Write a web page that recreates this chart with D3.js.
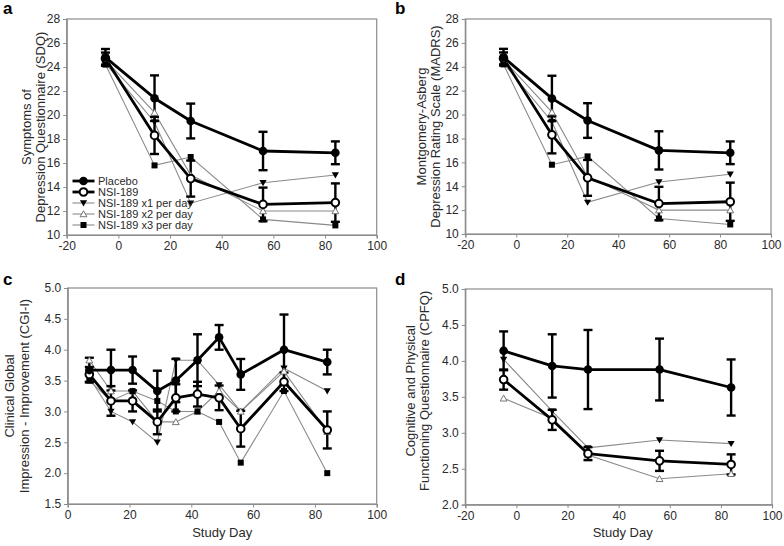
<!DOCTYPE html>
<html>
<head>
<meta charset="utf-8">
<script src="https://cdn.jsdelivr.net/npm/d3@7"></script>
<style>
  html, body { margin: 0; padding: 0; background: #fff; }
  svg { display: block; }
  text { font-family: "Liberation Sans", Arial, sans-serif; }
</style>
</head>
<body>
<script>
// ---------------- DATA ----------------
const daysAB = [-5, 14, 28, 56, 84];
const seriesNames = ["Placebo", "NSI-189", "NSI-189 x1 per day", "NSI-189 x2 per day", "NSI-189 x3 per day"];

// Panel a: SDQ
const sdqPlacebo    = [24.8, 21.4, 19.5, 17.0, 16.85];
const sdqPlaceboErr = [0.7, 1.9, 1.45, 1.6, 0.95];
const sdqNSI        = [24.7, 18.3, 14.7, 12.55, 12.7];
const sdqNSIErr     = [0.5, 1.55, 1.5, 1.4, 1.6];
const sdqX1         = [24.3, 19.4, 12.65, 14.35, 15.0];
const sdqX2         = [24.6, 20.2, 15.0, 12.0, 12.0];
const sdqX3         = [24.2, 15.8, 16.5, 11.3, 10.8];

// Panel b: MADRS
const madrsPlacebo    = [24.8, 21.35, 19.5, 17.0, 16.8];
const madrsPlaceboErr = [0.7, 1.9, 1.45, 1.6, 0.95];
const madrsNSI        = [24.7, 18.3, 14.7, 12.55, 12.7];
const madrsNSIErr     = [0.5, 1.55, 1.5, 1.4, 1.6];
const madrsX1         = [24.3, 19.4, 12.65, 14.35, 15.0];
const madrsX2         = [24.6, 20.2, 14.8, 12.0, 12.0];
const madrsX3         = [24.2, 15.8, 16.5, 11.3, 10.8];

// Panel c: CGI-I
const daysC          = [7, 14, 21, 29, 35, 42, 49, 56, 70, 84];
const cgiPlacebo     = [3.67, 3.67, 3.67, 3.33, 3.5, 3.83, 4.2, 3.6, 4.0, 3.8];
const cgiPlaceboErr  = [0.2, 0.33, 0.22, 0.33, 0.35, 0.42, 0.2, 0.25, 0.57, 0.2];
const cgiNSI         = [3.6, 3.17, 3.17, 2.83, 3.22, 3.28, 3.22, 2.72, 3.48, 2.7];
const cgiNSIErr      = [0.12, 0.24, 0.17, 0.2, 0.22, 0.2, 0.2, 0.29, 0.15, 0.3];
const cgiX1          = [3.55, 3.0, 2.83, 2.5, 3.83, 3.83, 3.43, 3.0, 3.7, 3.33];
const cgiX2          = [3.83, 3.33, 3.33, 2.83, 2.83, 3.0, 3.33, 3.0, 3.65, 2.67];
const cgiX3          = [3.5, 3.17, 3.33, 3.17, 3.0, 3.0, 2.83, 2.17, 3.33, 2.0];

// Panel d: CPFQ
const cpfqPlacebo    = [4.14, 3.93, 3.88, 3.88, 3.63];
const cpfqPlaceboErr = [0.27, 0.44, 0.55, 0.43, 0.39];
const cpfqNSI        = [3.74, 3.18, 2.71, 2.61, 2.56];
const cpfqNSIErr     = [0.14, 0.14, 0.09, 0.14, 0.14];
const cpfqX1         = [4.02, 3.3, 2.79, 2.9, 2.85];
const cpfqX2         = [3.48, 3.2, 2.69, 2.36, 2.43];

// Ticks
const ticksXab = [-20, 0, 20, 40, 60, 80, 100];
const ticksYab = [10, 12, 14, 16, 18, 20, 22, 24, 26, 28];
const ticksXc  = [0, 20, 40, 60, 80, 100];
const ticksYc  = [1.5, 2.0, 2.5, 3.0, 3.5, 4.0, 4.5, 5.0];
const ticksYd  = [2.0, 2.5, 3.0, 3.5, 4.0, 4.5, 5.0];

// ---------------- DRAW ----------------
const svg = d3.select("body").append("svg").attr("width", 784).attr("height", 546);
svg.append("rect").attr("width", 784).attr("height", 546).attr("fill", "#fff");

const AXC = "#8c8c8c";
const TXT = "#2a2a2a";

function marker(g, type, x, y) {
  if (type === "fcircle") {
    g.append("circle").attr("cx", x).attr("cy", y).attr("r", 4.3).attr("fill", "#000");
  } else if (type === "ocircle") {
    g.append("circle").attr("cx", x).attr("cy", y).attr("r", 3.8).attr("fill", "#fff").attr("stroke", "#000").attr("stroke-width", 2);
  } else if (type === "dtri") {
    const s = 3.6;
    g.append("path").attr("d", `M${x - s},${y - s * 0.75}L${x + s},${y - s * 0.75}L${x},${y + s * 0.95}Z`).attr("fill", "#000");
  } else if (type === "otri") {
    const s = 3.4;
    g.append("path").attr("d", `M${x - s},${y + s * 0.8}L${x + s},${y + s * 0.8}L${x},${y - s * 0.95}Z`).attr("fill", "#fff").attr("stroke", "#666").attr("stroke-width", 0.9);
  } else if (type === "square") {
    g.append("rect").attr("x", x - 3).attr("y", y - 3).attr("width", 6).attr("height", 6).attr("fill", "#000");
  }
}

function drawPanel(cfg) {
  const x = d3.scaleLinear().domain(cfg.xDomain).range(cfg.xRange);
  const y = d3.scaleLinear().domain(cfg.yDomain).range(cfg.yRange);
  const g = svg.append("g");

  // frame
  g.append("rect")
    .attr("x", cfg.xRange[0]).attr("y", cfg.yRange[1])
    .attr("width", cfg.xRange[1] - cfg.xRange[0])
    .attr("height", cfg.yRange[0] - cfg.yRange[1])
    .attr("fill", "none").attr("stroke", AXC).attr("stroke-width", 1.2);

  // axes
  const xAxis = d3.axisBottom(x).tickValues(cfg.xTicks).tickSize(3.5).tickPadding(3).tickFormat(d => String(d));
  const yAxis = d3.axisLeft(y).tickValues(cfg.yTicks).tickSize(3.5).tickPadding(3).tickFormat(cfg.yFormat);
  const gx = g.append("g").attr("transform", `translate(0,${cfg.yRange[0]})`).call(xAxis);
  const gy = g.append("g").attr("transform", `translate(${cfg.xRange[0]},0)`).call(yAxis);
  [gx, gy].forEach(a => {
    a.select(".domain").attr("stroke", AXC).attr("stroke-width", 1.2);
    a.selectAll(".tick line").attr("stroke", AXC).attr("stroke-width", 1);
    a.selectAll(".tick text").attr("fill", TXT).style("font-size", "12px").style("font-family", "Liberation Sans, Arial, sans-serif");
  });

  const line = d3.line().x(d => x(d[0])).y(d => y(d[1]));
  const pts = (xs, ys) => xs.map((d, i) => [d, ys[i]]);

  // thin series
  cfg.thin.forEach(s => {
    g.append("path").datum(pts(cfg.days, s.values)).attr("d", line)
      .attr("fill", "none").attr("stroke", "#8a8a8a").attr("stroke-width", 1.1);
  });
  // thick series lines
  cfg.thick.slice().reverse().forEach(s => {
    g.append("path").datum(pts(cfg.days, s.values)).attr("d", line)
      .attr("fill", "none").attr("stroke", "#000").attr("stroke-width", 2.8).attr("stroke-linejoin", "round");
  });
  // error bars
  cfg.thick.forEach(s => {
    cfg.days.forEach((d, i) => {
      const cx = x(d), v = s.values[i], e = s.err[i];
      const y1 = y(v + e), y2 = y(v - e);
      g.append("line").attr("x1", cx).attr("x2", cx).attr("y1", y1).attr("y2", y2).attr("stroke", "#000").attr("stroke-width", 2.4);
      [y1, y2].forEach(yy => g.append("line").attr("x1", cx - 4.5).attr("x2", cx + 4.5).attr("y1", yy).attr("y2", yy).attr("stroke", "#000").attr("stroke-width", 2.4));
    });
  });
  // thin markers
  cfg.thin.forEach(s => {
    cfg.days.forEach((d, i) => marker(g, s.marker, x(d), y(s.values[i])));
  });
  // thick markers
  cfg.thick.slice().reverse().forEach(s => {
    cfg.days.forEach((d, i) => marker(g, s.marker, x(d), y(s.values[i])));
  });

  // panel letter
  svg.append("text").attr("x", cfg.letterPos[0]).attr("y", cfg.letterPos[1])
    .text(cfg.letter).attr("fill", "#000").style("font-size", "17px").style("font-weight", "bold");

  // y title (two lines)
  const cy = (cfg.yRange[0] + cfg.yRange[1]) / 2 + (cfg.titleDy || 0);
  cfg.yTitle.forEach((t, k) => {
    svg.append("text")
      .attr("transform", `translate(${cfg.titleX[k]},${cy}) rotate(-90)`)
      .attr("text-anchor", "middle").attr("fill", TXT)
      .style("font-size", "13px").text(t);
  });

  if (cfg.xTitle) {
    svg.append("text").attr("x", (cfg.xRange[0] + cfg.xRange[1]) / 2 + (cfg.xTitleDx || 0)).attr("y", 537)
      .attr("text-anchor", "middle").attr("fill", TXT).style("font-size", "13px").text(cfg.xTitle);
  }

  // legend
  if (cfg.legend) {
    const all = cfg.thick.concat(cfg.thin);
    const rowsY = [181, 192, 203, 214, 225];
    all.forEach((s, k) => {
      const ly = rowsY[k];
      const thick = k < 2;
      g.append("line").attr("x1", 72.5).attr("x2", 94.5).attr("y1", ly).attr("y2", ly)
        .attr("stroke", thick ? "#000" : "#8a8a8a").attr("stroke-width", thick ? 2.8 : 1.1);
      marker(g, s.marker, 83.5, ly);
      g.append("text").attr("x", 98).attr("y", ly + 4).attr("fill", TXT)
        .style("font-size", "11px").text(seriesNames[k]);
    });
  }
}

const fmt1 = d3.format(".1f");

drawPanel({
  letter: "a", letterPos: [3, 14],
  xDomain: [-20, 100], xRange: [66.7, 376.7],
  yDomain: [10, 28], yRange: [235, 19],
  xTicks: ticksXab, yTicks: ticksYab, yFormat: d3.format("d"),
  days: daysAB,
  thick: [{ values: sdqPlacebo, err: sdqPlaceboErr, marker: "fcircle" },
          { values: sdqNSI, err: sdqNSIErr, marker: "ocircle" }],
  thin: [{ values: sdqX1, marker: "dtri" }, { values: sdqX2, marker: "otri" }, { values: sdqX3, marker: "square" }],
  yTitle: ["Symptoms of", "Depression Questionnaire (SDQ)"], titleX: [30.5, 44.5],
  legend: true
});

drawPanel({
  letter: "b", letterPos: [395, 14],
  xDomain: [-20, 100], xRange: [465.3, 771],
  yDomain: [10, 28], yRange: [234, 19],
  xTicks: ticksXab, yTicks: ticksYab, yFormat: d3.format("d"),
  days: daysAB,
  thick: [{ values: madrsPlacebo, err: madrsPlaceboErr, marker: "fcircle" },
          { values: madrsNSI, err: madrsNSIErr, marker: "ocircle" }],
  thin: [{ values: madrsX1, marker: "dtri" }, { values: madrsX2, marker: "otri" }, { values: madrsX3, marker: "square" }],
  yTitle: ["Montgomery-Asberg", "Depression Rating Scale  (MADRS)"], titleX: [426, 439.5]
});

drawPanel({
  letter: "c", letterPos: [3, 285],
  xDomain: [0, 100], xRange: [67.7, 376.7],
  yDomain: [1.5, 5], yRange: [504, 288],
  xTicks: ticksXc, yTicks: ticksYc, yFormat: fmt1,
  days: daysC,
  thick: [{ values: cgiPlacebo, err: cgiPlaceboErr, marker: "fcircle" },
          { values: cgiNSI, err: cgiNSIErr, marker: "ocircle" }],
  thin: [{ values: cgiX1, marker: "dtri" }, { values: cgiX2, marker: "otri" }, { values: cgiX3, marker: "square" }],
  yTitle: ["Clinical Global", "Impression - Improvement  (CGI-I)"], titleX: [14, 29],
  xTitle: "Study Day"
});

drawPanel({
  letter: "d", letterPos: [395, 285],
  xDomain: [-20, 100], xRange: [465.3, 772],
  yDomain: [2, 5], yRange: [504.7, 289],
  xTicks: ticksXab, yTicks: ticksYd, yFormat: fmt1,
  days: daysAB,
  thick: [{ values: cpfqPlacebo, err: cpfqPlaceboErr, marker: "fcircle" },
          { values: cpfqNSI, err: cpfqNSIErr, marker: "ocircle" }],
  thin: [{ values: cpfqX1, marker: "dtri" }, { values: cpfqX2, marker: "otri" }],
  yTitle: ["Cognitive and Physical", "Functioning Questionnaire (CPFQ)"], titleX: [414.5, 429], titleDy: -6,
  xTitle: "Study Day", xTitleDx: 4
});
</script>
</body>
</html>
